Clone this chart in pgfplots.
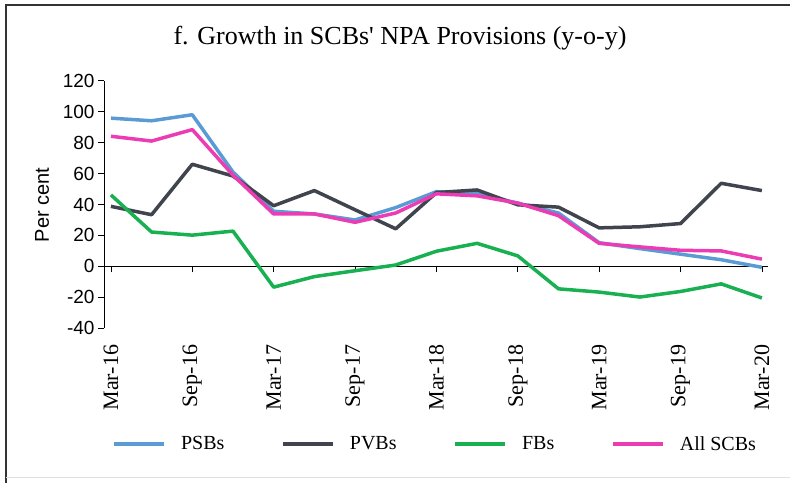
\documentclass[border=0pt]{standalone}
\usepackage{pgfplots}
\pgfplotsset{compat=1.18}
\usepackage{fontspec}
\setmainfont{Liberation Serif}
\newfontfamily\sansf{Liberation Sans}
\definecolor{psb}{RGB}{91,155,213}
\definecolor{pvb}{RGB}{64,68,78}
\definecolor{fb}{RGB}{24,176,80}
\definecolor{scb}{RGB}{236,60,180}
\begin{document}
\begin{tikzpicture}[x=1pt,y=1pt]
\useasboundingbox (0,0) rectangle (790,483);
\draw[line width=1.5pt, black!80] (6,0) -- (6,478) -- (790,478);
\draw[black!12, line width=1pt] (6,6) -- (790,6);
\node[font=\fontsize{26}{30}\selectfont] at (400,445) {f. Growth in SCBs\textquotesingle{} NPA Provisions (y-o-y)};
\node[font=\sansf\fontsize{20}{24}\selectfont, rotate=90] at (42,278) {Per cent};
\begin{axis}[
  at={(104pt,154.7pt)}, anchor=south west,
  scale only axis, width=664pt, height=247.6pt,
  xmin=-0.17, xmax=16.15, ymin=-40, ymax=120,
  axis x line*=middle, axis y line*=left,
  axis line style={black, line width=0.8pt},
  tick style={black, line width=0.8pt},
  major tick length=6pt,
  xtick align=outside, ytick align=outside,
  ytick={-40,-20,...,120},
  xtick={0,2,...,16},
  xticklabels={Mar-16,Sep-16,Mar-17,Sep-17,Mar-18,Sep-18,Mar-19,Sep-19,Mar-20},
  xticklabel style={rotate=90, anchor=east, font=\fontsize{22}{26}\selectfont},
  xticklabel shift=69pt,
  yticklabel style={font=\sansf\fontsize{19}{22}\selectfont},
  /pgf/number format/assume math mode=true,
  legend style={at={(0.4985,-0.467)}, anchor=center, draw=none, fill=none,
    legend columns=4, font=\fontsize{20}{24}\selectfont,
    /tikz/every odd column/.append style={column sep=13pt},
    /tikz/every even column/.append style={column sep=54.5pt}},
  legend image code/.code={\draw[#1, line width=4pt] (0pt,0pt) -- (50pt,0pt);},
  every axis plot/.append style={line width=3.5pt, line join=round},
]
\addplot[psb] coordinates {(0,95.8)(1,94.1)(2,98)(3,61)(4,35.6)(5,33.9)(6,30)(7,38)(8,48.3)(9,46.9)(10,40.9)(11,34.5)(12,15.3)(13,11.5)(14,7.9)(15,4.3)(16,-0.6)};
\addlegendentry{PSBs}
\addplot[pvb] coordinates {(0,38.8)(1,33.4)(2,66)(3,58.4)(4,39.2)(5,49)(6,36.6)(7,24.3)(8,47.7)(9,49.4)(10,39.8)(11,38.3)(12,24.9)(13,25.6)(14,27.7)(15,53.7)(16,49)};
\addlegendentry{PVBs}
\addplot[fb] coordinates {(0,46.2)(1,22.2)(2,20.2)(3,22.8)(4,-13.4)(5,-6.6)(6,-2.8)(7,0.9)(8,9.8)(9,14.9)(10,6.8)(11,-14.5)(12,-16.6)(13,-19.8)(14,-16.2)(15,-11.3)(16,-20.4)};
\addlegendentry{FBs}
\addplot[scb] coordinates {(0,84.1)(1,81)(2,88.4)(3,59)(4,33.9)(5,33.9)(6,28.5)(7,34.5)(8,46.9)(9,45.6)(10,40.9)(11,32.8)(12,14.9)(13,12.6)(14,10.4)(15,10)(16,4.7)};
\addlegendentry{All SCBs}
\end{axis}
\end{tikzpicture}
\end{document}
